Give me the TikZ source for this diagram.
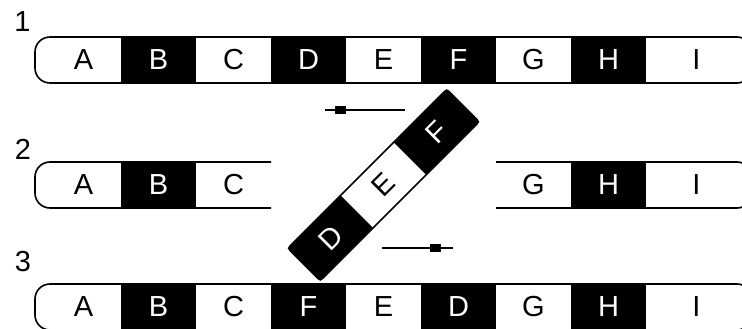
\documentclass[tikz,border=0pt]{standalone}
\usepackage{fontspec}
\setmainfont{Liberation Sans}
\usepackage{tikz}
\usetikzlibrary{positioning}
\tikzset{
    cellbase/.style={
        minimum width=75pt, minimum height=46pt,
        inner sep=0pt, outer sep=0pt,
        font=\fontsize{29}{29}\selectfont
    },
    lightcell/.style={cellbase, fill=white, text=black},
    darkcell/.style={cellbase, fill=black, text=white},
    tapeline/.style={draw=black, line width=1.6pt, rounded corners=15pt},
    rowlabel/.style={font=\fontsize{29}{29}\selectfont, inner sep=0pt},
    moveline/.style={draw=black, line width=1.8pt},
    movemark/.style={fill=black, minimum width=11pt, minimum height=8pt, inner sep=0pt},
}

\begin{document}
\begin{tikzpicture}[
        x=1pt, y=-1pt,
        node distance=0pt and 0pt,
    ]
    \clip (0,0) rectangle (742,329);
    % row 1
    \node[rowlabel] (n1) at (22.5,21.5) {1};
    \node[lightcell] (a1) at (83.5,60) {A};
    \node[darkcell, right=of a1] (b1) {B};
    \node[lightcell, right=of b1] (c1) {C};
    \node[darkcell, right=of c1] (d1) {D};
    \node[lightcell, right=of d1] (e1) {E};
    \node[darkcell, right=of e1] (f1) {F};
    \node[lightcell, right=of f1] (g1) {G};
    \node[darkcell, right=of g1] (h1) {H};
    \node[lightcell, minimum width=101pt, right=of h1] (i1) {I};
    \draw[tapeline] (35,37) rectangle (752,83);

    % row 2
    \node[rowlabel] (n2) at (23,149) {2};
    \node[lightcell] (a2) at (83.5,185) {A};
    \node[darkcell, right=of a2] (b2) {B};
    \node[lightcell, right=of b2] (c2) {C};
    \node[lightcell] (g2) at (533.5,185) {G};
    \node[darkcell, right=of g2] (h2) {H};
    \node[lightcell, minimum width=101pt, right=of h2] (i2) {I};
    \draw[tapeline] (c2.north east) -- (35,162) -- (35,208) -- (c2.south east);
    \draw[tapeline] (g2.north west) -- (752,162) -- (752,208) -- (g2.south west);

    % turned piece
    \node[darkcell, rotate=45] (d2) at (330.5,238) {D};
    \node[lightcell, rotate=45] (e2) at (383.5,185) {E};
    \node[darkcell, rotate=45] (f2) at (436.5,132) {F};
    \draw[draw=black, line width=1.6pt, rounded corners=3pt]
        (d2.south west) -- (d2.north west) -- (f2.north east) -- (f2.south east) -- cycle;

    \coordinate (t1) at (405,110);
    \coordinate (t2) at (325,110);
    \draw[moveline] (t1) -- (t2) node[movemark, pos=0.8125] (k1) {};
    \coordinate (u1) at (382,248);
    \coordinate (u2) at (453,248);
    \draw[moveline] (u1) -- (u2) node[movemark, pos=0.76] (k2) {};

    % row 3
    \node[rowlabel] (n3) at (23,262) {3};
    \node[lightcell] (a3) at (83.5,307) {A};
    \node[darkcell, right=of a3] (b3) {B};
    \node[lightcell, right=of b3] (c3) {C};
    \node[darkcell, right=of c3] (f3) {F};
    \node[lightcell, right=of f3] (e3) {E};
    \node[darkcell, right=of e3] (d3) {D};
    \node[lightcell, right=of d3] (g3) {G};
    \node[darkcell, right=of g3] (h3) {H};
    \node[lightcell, minimum width=101pt, right=of h3] (i3) {I};
    \draw[tapeline] (35,284) rectangle (752,330);
\end{tikzpicture}
\end{document}
